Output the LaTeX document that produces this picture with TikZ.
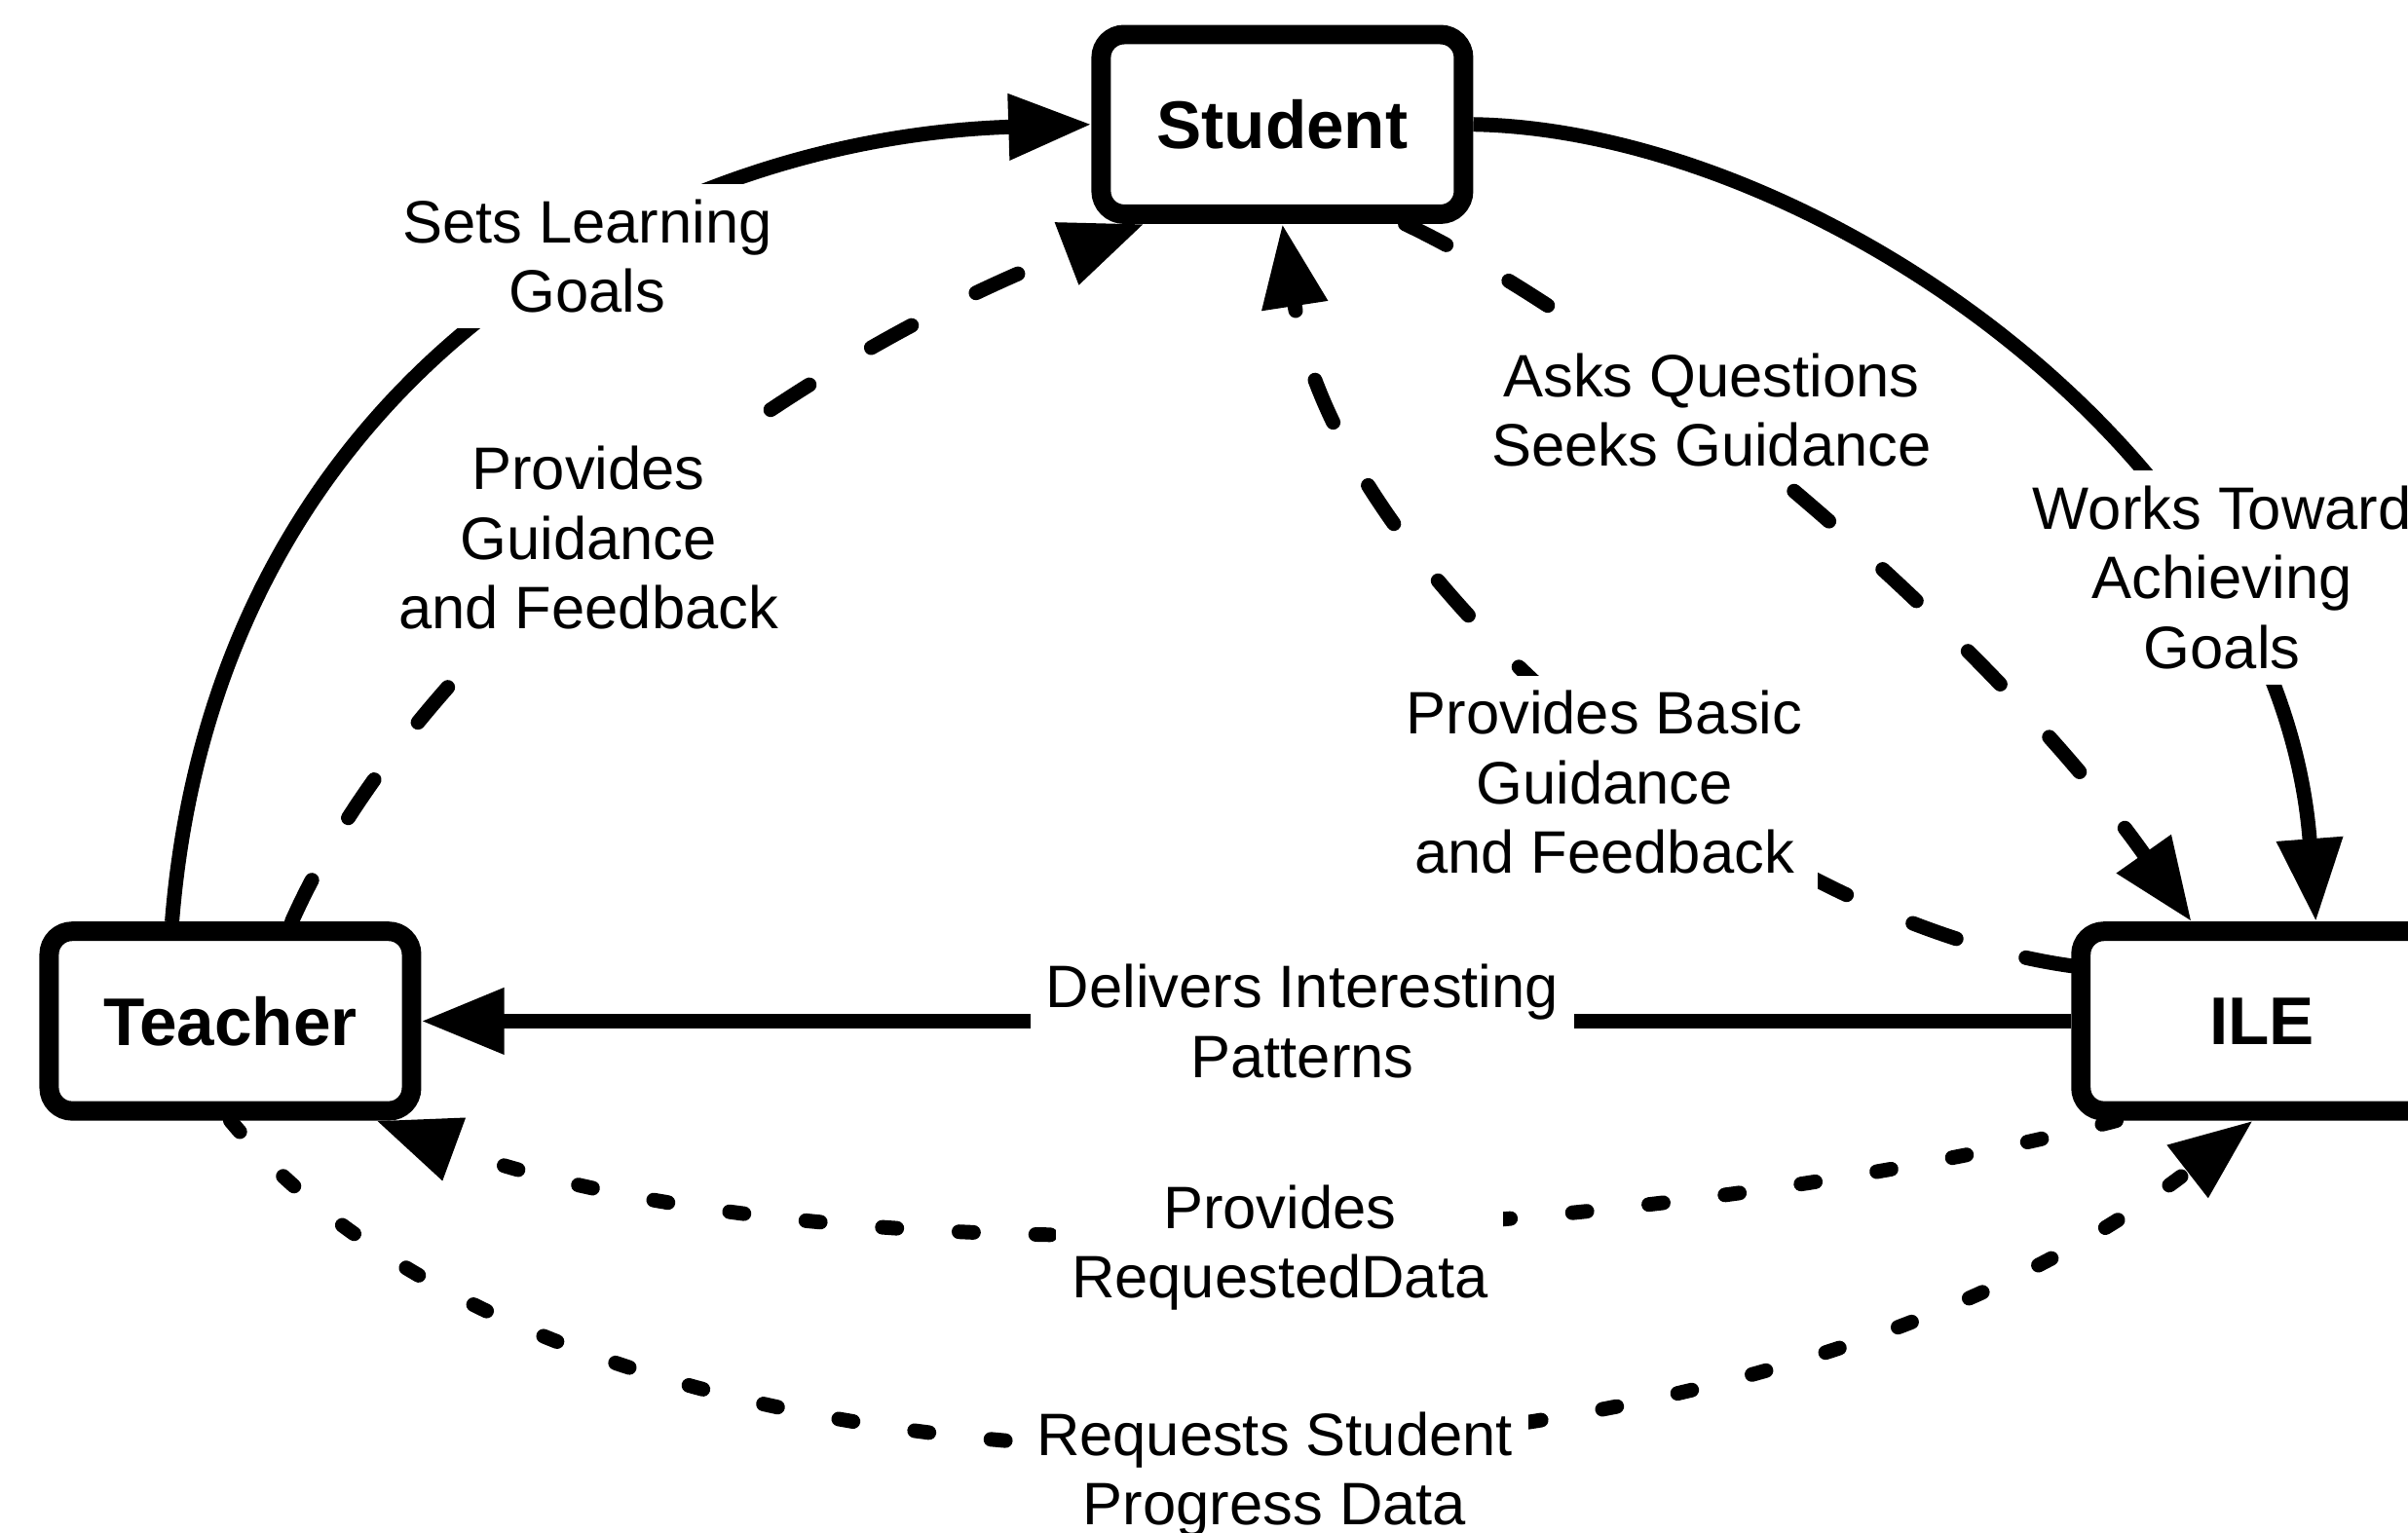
\documentclass[tikz,border=0pt]{standalone}
\usepackage{fontspec}
\setmainfont{Liberation Sans}
\usetikzlibrary{arrows.meta}

\begin{document}
\begin{tikzpicture}[
  entity/.style={draw, line width=3.6pt, rounded corners=0.15cm, minimum width=2.36cm, minimum height=1.17cm, font=\fontsize{12.5}{15}\selectfont\bfseries},
  lbl/.style={fill=white, inner sep=0.1cm, align=center, font=\fontsize{11.1}{12.9}\selectfont},
  link/.style={line width=2.7pt, -{Triangle[length=0.54cm,width=0.41cm]}},
  dashlink/.style={link, line cap=round, dash pattern=on 0.30cm off 0.47cm},
  dotlink/.style={link, line cap=round, dash pattern=on 0.095cm off 0.405cm}]
\useasboundingbox (0,0) rectangle (15.68,-9.98);

\node[entity] (Student) at (8.35,-0.81) {Student};
\node[entity] (Teacher) at (1.50,-6.65) {Teacher};
\node[entity] (ILE) at (14.73,-6.65) {ILE};

\draw[link] ([xshift=-0.38cm]Teacher.north) .. controls (1.40,-2.50) and (4.20,-0.90) .. (Student.west)
  node[lbl, pos=0.6] {Sets Learning\\Goals};
\draw[link] (Student.east) .. controls (11.80,-0.85) and (14.85,-2.95) .. ([xshift=0.35cm]ILE.north)
  node[lbl, pos=0.73, xshift=0.12cm] {Works Toward\\Achieving\\Goals};
\draw[link] (ILE.west) -- (Teacher.east)
  node[lbl, pos=0.466] {Delivers Interesting\\Patterns};

\draw[dashlink] ([xshift=0.40cm]Teacher.north) .. controls (2.70,-4.20) and (5.00,-2.40) .. ([xshift=-0.90cm]Student.south)
  node[lbl, pos=0.47, xshift=-0.05cm, yshift=0.05cm] {Provides\\Guidance\\and Feedback};
\draw[dashlink] ([yshift=0.36cm]ILE.west) .. controls (11.40,-6.00) and (8.70,-3.76) .. (Student.south)
  node[lbl, pos=0.45, xshift=-0.12cm, yshift=-0.21cm] {Provides Basic\\Guidance\\and Feedback};
\draw[dashlink] ([xshift=0.80cm]Student.south) .. controls (10.70,-2.20) and (13.00,-4.20) .. ([xshift=-0.46cm]ILE.north)
  node[lbl, pos=0.38, yshift=0.1cm] {Asks Questions\\Seeks Guidance};

\draw[dotlink] ([xshift=-0.95cm]ILE.south) .. controls (10.70,-8.10) and (5.45,-8.40) .. ([xshift=0.95cm]Teacher.south)
  node[lbl, pos=0.48, yshift=-0.12cm] {Provides\\RequestedData};
\draw[dotlink] (Teacher.south) .. controls (3.90,-10.18) and (11.20,-10.00) .. ([xshift=-0.06cm]ILE.south)
  node[lbl, pos=0.54, yshift=-0.23cm] {Requests Student\\Progress Data};
\end{tikzpicture}
\end{document}
